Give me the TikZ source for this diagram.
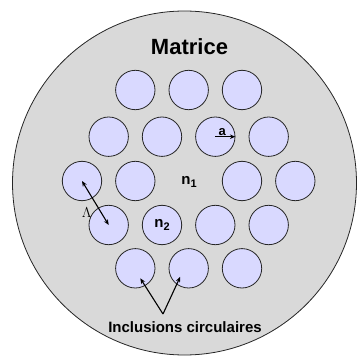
\documentclass[tikz,border=0pt]{standalone}
\usepackage{fontspec}
\setmainfont{Liberation Sans}
\usepackage{tikz}
\usetikzlibrary{arrows.meta}
\definecolor{matgray}{RGB}{217,217,217}
\definecolor{inclblue}{RGB}{217,217,255}
\newcommand{\subidx}[1]{\raisebox{-0.35ex}{\fontsize{11}{12}\selectfont #1}}

\begin{document}
\begin{tikzpicture}[
  x=1pt, y=-1pt,
  matdisk/.style={circle, draw=black!85, fill=matgray, minimum size=344pt, inner sep=0pt, line width=0.8pt},
  incl/.style={circle, draw=black!85, fill=inclblue, minimum size=39.4pt, inner sep=0pt, line width=0.8pt},
  lbl/.style={font=\bfseries\fontsize{15}{18}\selectfont, inner sep=0pt},
  >={Stealth[length=5.5pt, width=4.5pt]}
]
\useasboundingbox (0,0) rectangle (357,356);
\node[matdisk] (mat) at (184.5,183) {};

% inclusions, row by row
\node[incl] (i11) at (135.3,90) {}; \node[incl] (i12) at (188.7,90) {}; \node[incl] (i13) at (242,90) {};
\node[incl] (i21) at (108.7,136.7) {}; \node[incl] (i22) at (162,136.7) {};
\node[incl] (i23) at (215.3,136.7) {}; \node[incl] (i24) at (268.7,136.7) {};
\node[incl] (i31) at (82,181) {}; \node[incl] (i32) at (135.3,181) {};
\node[incl] (i33) at (242,181) {}; \node[incl] (i34) at (295.3,181) {};
\node[incl] (i41) at (108.7,225) {}; \node[incl] (i42) at (162,225) {};
\node[incl] (i43) at (215.3,225) {}; \node[incl] (i44) at (268.7,225) {};
\node[incl] (i51) at (135.3,268.3) {}; \node[incl] (i52) at (188.7,268.3) {}; \node[incl] (i53) at (242,268.3) {};

% labels
\node[font=\bfseries\fontsize{22}{24}\selectfont, inner sep=0pt] (title) at (189.5,47) {Matrice};
\node[lbl] (n1) at (189,182) {n\subidx{1}};
\node[lbl] (n2) at (i42) {n\subidx{2}};
\node[lbl] (incltxt) at (185,327) {Inclusions circulaires};
\coordinate (fork) at (163,314);

% radius and pitch
\draw[->, line width=1.1pt] (i23.center) -- node[above=1pt, pos=0.35, font=\bfseries\fontsize{13}{14}\selectfont, inner sep=0pt] {a} (i23.east);
\draw[<->, line width=1.1pt] (i31.center) -- node[pos=0.72, left=9pt, inner sep=0pt] {\fontsize{15}{18}\selectfont$\Lambda$} (i41.center);

% pointers to inclusions
\draw[->, line width=1.1pt] (fork) -- ([shift={(5,10)}]i51.center);
\draw[->, line width=1.1pt] (fork) -- ([shift={(-8.5,8.5)}]i52.center);
\end{tikzpicture}
\end{document}
